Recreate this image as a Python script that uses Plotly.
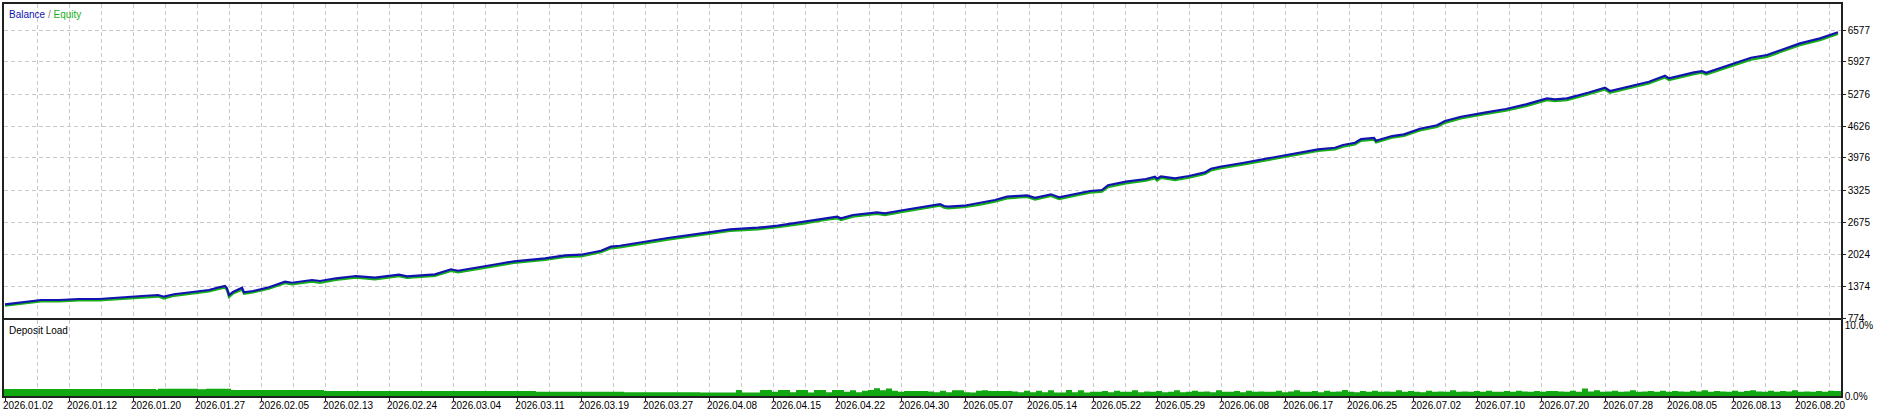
import plotly.graph_objects as go

# ---------------- data ----------------
date_labels = ["2026.01.02", "2026.01.12", "2026.01.20", "2026.01.27", "2026.02.05", "2026.02.13",
               "2026.02.24", "2026.03.04", "2026.03.11", "2026.03.19", "2026.03.27", "2026.04.08",
               "2026.04.15", "2026.04.22", "2026.04.30", "2026.05.07", "2026.05.14", "2026.05.22",
               "2026.05.29", "2026.06.08", "2026.06.17", "2026.06.25", "2026.07.02", "2026.07.10",
               "2026.07.20", "2026.07.28", "2026.08.05", "2026.08.13", "2026.08.20"]
date_pos = [1 + 64 * i for i in range(len(date_labels))]   # position on the trade-index axis
grid_pos = [33 + 64 * i for i in range(len(date_labels))]
x_max = 1837

y_tick_vals = [724, 1374, 2024, 2675, 3325, 3976, 4626, 5276, 5927, 6577]
y_tick_text = ["774", "1374", "2024", "2675", "3325", "3976", "4626", "5276", "5927", "6577"]

trade_idx = [1, 20, 37, 55, 75, 95, 115, 138, 154, 160,
             170, 190, 205, 215, 221, 223, 225, 229, 238, 240,
             249, 265, 281, 288, 308, 316, 332, 352, 364, 371,
             395, 403, 431, 447, 454, 470, 494, 510, 541, 561,
             577, 597, 607, 616, 664, 726, 754, 774, 798, 821,
             833, 837, 849, 873, 881, 900, 920, 936, 940, 944,
             960, 975, 991, 1003, 1023, 1031, 1047, 1055, 1070, 1086,
             1098, 1104, 1122, 1142, 1151, 1153, 1157, 1171, 1185, 1201,
             1207, 1216, 1240, 1262, 1314, 1331, 1339, 1351, 1357, 1370,
             1372, 1388, 1400, 1416, 1433, 1441, 1457, 1482, 1502, 1522,
             1543, 1551, 1563, 1584, 1601, 1606, 1625, 1645, 1661, 1665,
             1690, 1698, 1702, 1722, 1747, 1763, 1780, 1796, 1816, 1834]

balance = [1002, 1043, 1090, 1090, 1110, 1110, 1145, 1171, 1191, 1157,
           1206, 1252, 1293, 1348, 1374, 1327, 1191, 1252, 1340, 1246,
           1273, 1348, 1462, 1441, 1496, 1476, 1531, 1577, 1563, 1543,
           1604, 1571, 1612, 1714, 1685, 1734, 1821, 1876, 1937, 1998,
           2010, 2091, 2173, 2193, 2350, 2526, 2559, 2600, 2669, 2750,
           2783, 2750, 2817, 2872, 2851, 2918, 2986, 3040, 3000, 2986,
           3006, 3055, 3122, 3189, 3217, 3168, 3238, 3177, 3238, 3305,
           3325, 3421, 3494, 3549, 3595, 3555, 3603, 3562, 3609, 3684,
           3758, 3798, 3880, 3960, 4152, 4184, 4239, 4286, 4361, 4382,
           4327, 4422, 4457, 4571, 4640, 4727, 4814, 4904, 4971, 5066,
           5188, 5168, 5188, 5302, 5404, 5337, 5424, 5526, 5648, 5595,
           5716, 5743, 5709, 5845, 6013, 6068, 6184, 6305, 6407, 6530]

equity = [975, 1015, 1062, 1060, 1080, 1082, 1115, 1140, 1160, 1120,
          1175, 1222, 1262, 1315, 1340, 1290, 1150, 1220, 1300, 1215,
          1245, 1318, 1430, 1405, 1465, 1440, 1500, 1545, 1530, 1510,
          1572, 1540, 1580, 1680, 1650, 1700, 1790, 1845, 1905, 1965,
          1978, 2060, 2140, 2160, 2318, 2494, 2525, 2568, 2636, 2718,
          2750, 2715, 2785, 2840, 2815, 2886, 2952, 3008, 2965, 2950,
          2975, 3022, 3090, 3155, 3185, 3130, 3205, 3140, 3205, 3272,
          3292, 3385, 3460, 3515, 3560, 3518, 3570, 3525, 3575, 3650,
          3722, 3765, 3846, 3926, 4118, 4150, 4205, 4252, 4325, 4348,
          4290, 4388, 4422, 4535, 4605, 4690, 4780, 4870, 4936, 5030,
          5150, 5130, 5152, 5266, 5368, 5300, 5388, 5490, 5610, 5560,
          5680, 5708, 5672, 5810, 5975, 6032, 6148, 6268, 6370, 6495]

# deposit load (%), early smooth part
load_early_idx = [0, 152, 154, 194, 202, 227, 320, 532, 620]
load_early_pct = [1.00, 0.90, 1.04, 0.95, 1.04, 0.85, 0.71, 0.62, 0.55]
# later part, one value per 6 index units starting at 696
load_step_start = 696
load_step = [
    0.5, 0.5, 0.5, 0.5, 0.5, 0.5, 0.85, 0.5, 0.5, 0.5, 0.85, 0.85, 0.6, 0.85, 0.85, 0.55, 0.85, 0.85, 0.5,
    0.85, 0.85, 0.55, 0.85, 0.85, 0.6, 0.8, 0.55, 0.75, 0.85, 1.1, 0.8, 1.05, 0.75, 0.6, 0.7, 0.7, 0.7, 0.7,
    0.65, 0.55, 0.75, 0.55, 0.8, 0.8, 0.55, 0.5, 0.75, 0.8, 0.7, 0.7, 0.7, 0.7, 0.65, 0.55, 0.75, 0.55, 0.75,
    0.55, 0.8, 0.5, 0.5, 0.85, 0.55, 0.8, 0.5, 0.6, 0.6, 0.7, 0.55, 0.75, 0.6, 0.6, 0.8, 0.55, 0.65, 0.6,
    0.7, 0.55, 0.6, 0.8, 0.55, 0.6, 0.75, 0.6, 0.65, 0.55, 0.8, 0.6, 0.6, 0.7, 0.55, 0.75, 0.6, 0.65, 0.6,
    0.6, 0.75, 0.55, 0.65, 0.8, 0.6, 0.6, 0.7, 0.55, 0.75, 0.6, 0.65, 0.85, 0.6, 0.55, 0.7, 0.6, 0.75, 0.6,
    0.65, 0.6, 0.8, 0.6, 0.7, 0.6, 0.55, 0.75, 0.6, 0.65, 0.6, 0.8, 0.6, 0.65, 0.6, 0.7, 0.6, 0.75, 0.6,
    0.6, 0.7, 0.6, 0.75, 0.65, 0.6, 0.7, 0.6, 0.7, 0.7, 0.65, 0.6, 0.75, 0.6, 1.05, 0.65, 0.8, 0.6, 0.65,
    0.75, 0.6, 0.65, 0.8, 0.6, 0.65, 0.7, 0.6, 0.75, 0.6, 0.7, 0.65, 0.6, 0.75, 0.65, 0.8, 0.6, 0.7, 0.65,
    0.6, 0.75, 0.6, 0.7, 0.8, 0.65, 0.6, 0.75, 0.6, 0.7, 0.65, 0.8, 0.6, 0.65, 0.6, 0.7, 0.6, 0.75, 0.7]

load_idx = load_early_idx + [load_step_start + 6 * i for i in range(len(load_step))] + [x_max]
load_pct = load_early_pct + load_step + [load_step[-1]]

# ---------------- styles ----------------
FONT = "Liberation Sans, Arial, sans-serif"
BLUE = "#1212b0"
GREEN = "#19b019"
LOAD_GREEN = "#12a812"
GRID = "#c8c8c8"
FRAME = "#202020"

fig = go.Figure()
fig.add_trace(go.Scatter(x=trade_idx, y=equity, mode="lines", line=dict(color=GREEN, width=2.2),
                         xaxis="x", yaxis="y", hoverinfo="skip"))
fig.add_trace(go.Scatter(x=trade_idx, y=balance, mode="lines", line=dict(color=BLUE, width=2.2),
                         xaxis="x", yaxis="y", hoverinfo="skip"))
fig.add_trace(go.Scatter(x=load_idx, y=load_pct, mode="lines", line=dict(color=LOAD_GREEN, width=0, shape="hv"),
                         fill="tozeroy", fillcolor=LOAD_GREEN, xaxis="x2", yaxis="y2", hoverinfo="skip"))

top_bottom = (396 - 318) / 392
bot_top = (396 - 320) / 392

common_x = dict(range=[0, x_max], showline=True, mirror=True, linecolor=FRAME, linewidth=1.5,
                zeroline=False, showgrid=True, gridcolor=GRID, griddash="4px,3px", gridwidth=1,
                automargin=False,
                tickmode="array", tickvals=date_pos,
                minor=dict(tickmode="array", tickvals=grid_pos, showgrid=True, gridcolor=GRID,
                           griddash="4px,3px", gridwidth=1, ticks=""))

fig.update_layout(
    width=1886, height=413,
    margin=dict(l=4, r=45, t=4, b=17, autoexpand=False),
    paper_bgcolor="white", plot_bgcolor="white",
    showlegend=False,
    font=dict(family=FONT, size=10, color="#000000"),
    xaxis=dict(common_x, domain=[0, 1], anchor="y", showticklabels=False, ticks=""),
    yaxis=dict(domain=[top_bottom, 1], anchor="x", side="right", range=[724, 724 + 314 * 650.33 / 32],
               tickmode="array", tickvals=y_tick_vals, ticktext=y_tick_text, automargin=False,
               showgrid=True, gridcolor=GRID, griddash="4px,3px", gridwidth=1,
               showline=True, mirror=True, linecolor=FRAME, linewidth=1.5, zeroline=False,
               ticks="outside", ticklen=3, tickcolor=FRAME, tickfont=dict(size=10, family=FONT)),
    xaxis2=dict(common_x, domain=[0, 1], anchor="y2", ticktext=date_labels, showticklabels=True,
                ticks="outside", ticklen=3, tickcolor=FRAME, ticklabelshift=23, ticklabelstandoff=-4,
                tickfont=dict(size=10, family=FONT)),
    yaxis2=dict(domain=[0, bot_top], anchor="x2", side="right", range=[0, 10.8], automargin=False,
                tickmode="array", tickvals=[0, 10], ticktext=["0.0%", "10.0%"],
                showgrid=False, showline=True, mirror=True, linecolor=FRAME, linewidth=1.5,
                zeroline=False, ticks="", tickfont=dict(size=10, family=FONT)),
)

fig.add_annotation(xref="x domain", yref="y domain", x=0, y=1, xanchor="left", yanchor="top",
                   xshift=3, yshift=-3, showarrow=False,
                   text=f"<span style='color:{BLUE}'>Balance</span><span style='color:#808080'> / </span>"
                        f"<span style='color:{GREEN}'>Equity</span>",
                   font=dict(size=10, family=FONT))
fig.add_annotation(xref="x2 domain", yref="y2 domain", x=0, y=1, xanchor="left", yanchor="top",
                   xshift=3, yshift=-3, showarrow=False, text="Deposit Load",
                   font=dict(size=10, family=FONT, color="#000000"))

fig.write_html("out.html", config={"displayModeBar": False},
               post_script="document.body.style.margin='0';document.body.style.overflow='hidden';")
